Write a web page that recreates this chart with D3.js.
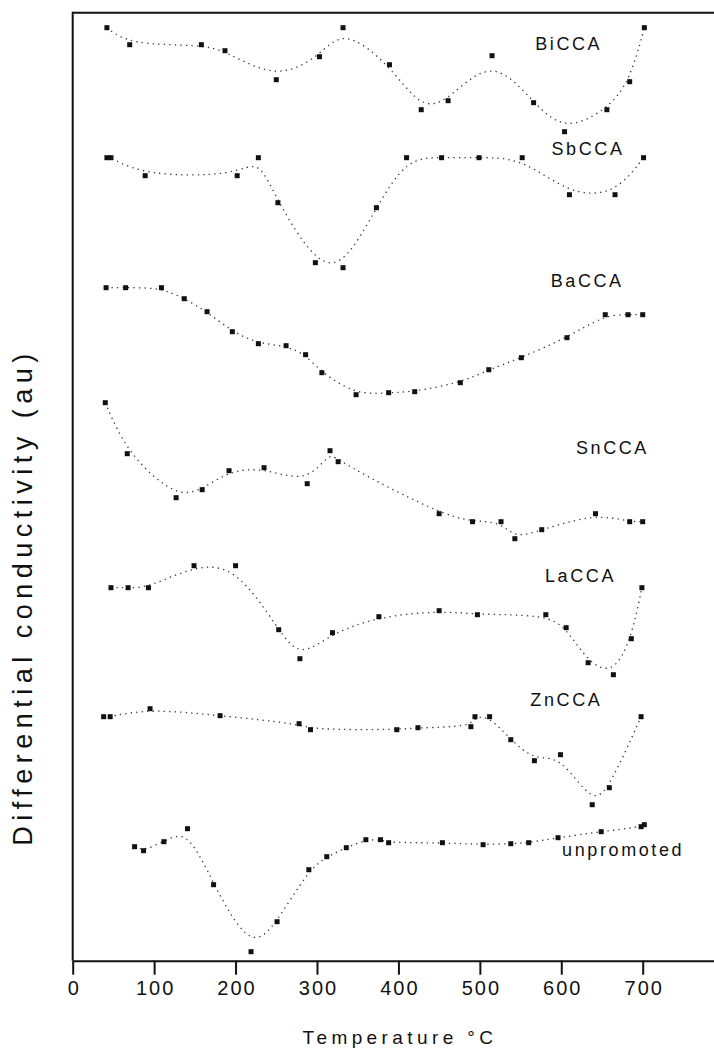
<!DOCTYPE html>
<meta charset="UTF-8">
<script src="https://d3js.org/d3.v7.min.js"></script>
<style>
  body { margin: 0; background: #fff; }
  text { font-family: "Liberation Sans", Arial, sans-serif; fill: #111; }
</style>
<svg id="my_dataviz" width="714" height="1053"></svg>
<script>

// Data (temperature in °C, conductivity in au, curves stacked)
var series = ["BiCCA", "SbCCA", "BaCCA", "SnCCA", "LaCCA", "ZnCCA", "unpromoted"];

var biT = [42, 70, 158, 187, 250, 303, 332, 389, 428, 461, 515, 566, 604, 656, 684, 702];
var biV = [933, 916, 916, 910, 881, 904, 933, 896, 851, 860, 905, 858, 829, 851, 879, 933];

var sbT = [42, 47, 89, 202, 228, 252, 298, 332, 373, 410, 453, 499, 552, 610, 666, 701];
var sbV = [803, 803, 785, 785, 803, 758, 698, 693, 753, 803, 803, 803, 803, 766, 766, 803];

var baT = [41, 65, 109, 137, 165, 196, 228, 262, 286, 306, 348, 388, 420, 476, 511, 551, 607, 654, 682, 700];
var baV = [673, 673, 673, 662, 649, 629, 617, 615, 606, 588, 566, 568, 569, 578, 591, 603, 623, 646, 646, 646];

var snT = [40, 67, 127, 159, 192, 235, 288, 316, 326, 450, 491, 526, 543, 576, 642, 684, 700];
var snV = [558, 507, 463, 471, 490, 493, 477, 510, 499, 447, 439, 439, 422, 431, 447, 439, 439];

var laT = [47, 68, 93, 149, 200, 253, 279, 319, 376, 450, 497, 581, 606, 633, 664, 686, 699];
var laV = [373, 373, 373, 395, 395, 331, 302, 328, 344, 350, 346, 346, 333, 298, 286, 322, 373];

var znT = [38, 46, 95, 181, 278, 292, 398, 424, 489, 494, 512, 538, 567, 599, 638, 659, 698];
var znV = [244, 244, 252, 245, 237, 231, 231, 233, 234, 244, 244, 221, 200, 206, 156, 173, 244];

var unT = [76, 87, 112, 141, 173, 219, 251, 290, 312, 336, 360, 378, 388, 454, 504, 538, 560, 596, 649, 698, 702];
var unV = [114, 110, 119, 132, 76, 9, 39, 91, 104, 113, 121, 121, 118, 118, 116, 117, 118, 123, 129, 134, 136];

var xTicks = [0, 100, 200, 300, 400, 500, 600, 700];

var allT = [biT, sbT, baT, snT, laT, znT, unT];
var allV = [biV, sbV, baV, snV, laV, znV, unV];

// where each name sits (temperature, au)
var labelAt = [[568, 911], [588, 806], [587, 674], [618, 507], [580, 379], [562, 255], [601, 105]];

var svg = d3.select("svg"),
  left = 72.7,
  bottom = 960.7,
  plotTop = 12.7;

var x = d3.scaleLinear().domain([0, 800]).range([left, left + 800 * 0.8143]);
var y = d3.scaleLinear().domain([0, 948]).range([bottom, plotTop]);

var line = d3.line()
  .x(function(d) { return x(d[0]); })
  .y(function(d) { return y(d[1]); })
  .curve(d3.curveBasis);

var rows = series.map(function(name, i) {
  return { name: name, pts: d3.zip(allT[i], allV[i]), label: labelAt[i] };
});

// frame: top line and left axis
svg.append("line")
  .attr("x1", x(0)).attr("x2", x(800))
  .attr("y1", y(948)).attr("y2", y(948))
  .attr("stroke", "#111").attr("stroke-width", 2);

svg.append("line")
  .attr("x1", x(0)).attr("x2", x(0))
  .attr("y1", y(948) - 1).attr("y2", y(0))
  .attr("stroke", "#111").attr("stroke-width", 2);

var xAxis = svg.append("g")
  .attr("transform", "translate(0," + bottom + ")")
  .call(d3.axisBottom(x).tickValues(xTicks).tickSize(14).tickSizeOuter(0).tickPadding(6));

xAxis.select(".domain").attr("stroke", "#111").attr("stroke-width", 2);
xAxis.selectAll(".tick line").attr("stroke", "#111").attr("stroke-width", 2);
xAxis.selectAll(".tick text")
  .attr("font-family", "Liberation Sans, Arial, sans-serif")
  .attr("font-size", 20)
  .attr("fill", "#111")
  .attr("dx", 1)
  .style("letter-spacing", "2px");

svg.append("text")
  .attr("x", 400)
  .attr("y", 1044)
  .attr("text-anchor", "middle")
  .style("font-size", "19px")
  .style("letter-spacing", "4.4px")
  .text("Temperature °C");

svg.append("text")
  .attr("transform", "translate(32,597) rotate(-90)")
  .attr("text-anchor", "middle")
  .style("font-size", "27px")
  .style("letter-spacing", "5.5px")
  .text("Differential conductivity (au)");

var g = svg.selectAll(".curve")
  .data(rows)
  .enter().append("g")
  .attr("class", "curve");

g.append("path")
  .attr("d", function(d) { return line(d.pts); })
  .attr("fill", "none")
  .attr("stroke", "#333")
  .attr("stroke-width", 1.3)
  .attr("stroke-dasharray", "1.3,4.2");

g.selectAll("rect")
  .data(function(d) { return d.pts; })
  .enter().append("rect")
  .attr("x", function(d) { return x(d[0]) - 2.5; })
  .attr("y", function(d) { return y(d[1]) - 2.5; })
  .attr("width", 5)
  .attr("height", 5)
  .attr("fill", "#111");

g.append("text")
  .attr("x", function(d) { return x(d.label[0]); })
  .attr("y", function(d) { return y(d.label[1]); })
  .style("font-size", "18px")
  .style("letter-spacing", "2.6px")
  .text(function(d) { return d.name; });

</script>
